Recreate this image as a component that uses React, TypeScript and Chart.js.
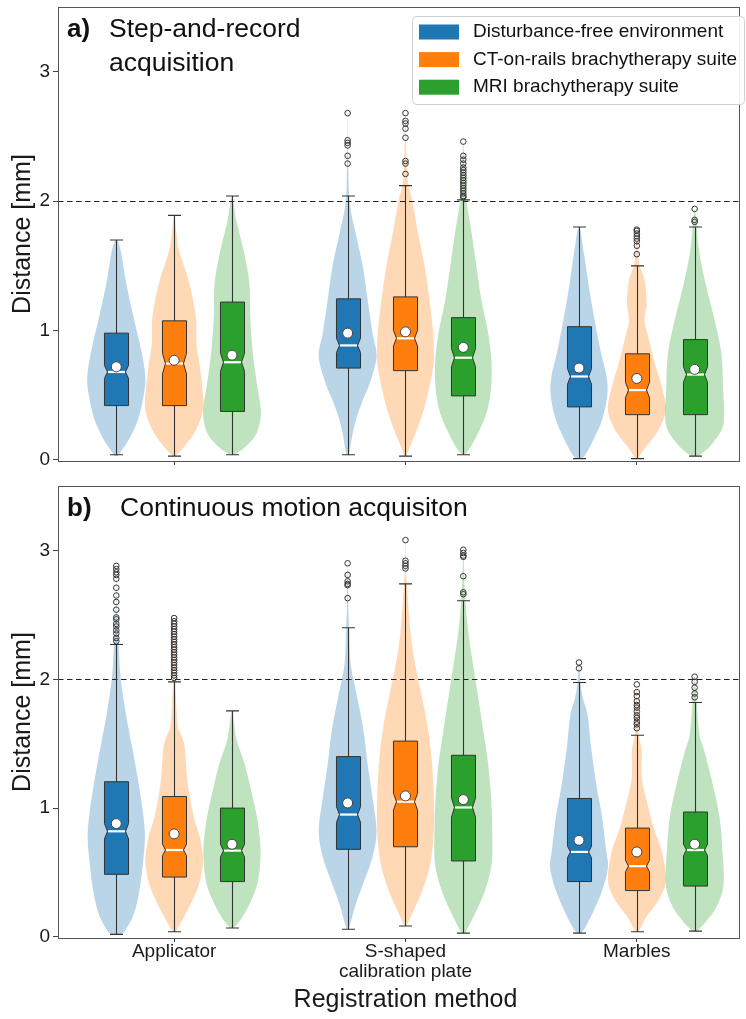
import React, { useEffect, useRef } from 'react';
import { Chart, registerables } from 'chart.js';

Chart.register(...registerables);

const FONT = "'Liberation Sans', Arial, Helvetica, sans-serif";

// ---------- shared labels ----------
const categories: (string | string[])[] = ['Applicator', ['S-shaped', 'calibration plate'], 'Marbles'];
const seriesNames = ['Disturbance-free environment', 'CT-on-rails brachytherapy suite', 'MRI brachytherapy suite'];
const seriesColors = ['#1f77b4', '#ff7f0e', '#2ca02c'];
const violinColors = ['rgba(31,119,180,0.31)', 'rgba(255,127,14,0.3)', 'rgba(44,160,44,0.3)'];
const yTickValues = [0, 1, 2, 3];
const categoryTickValues = [0, 1, 2];
const thresholdMm = 2;
const xAxisTitle = 'Registration method';
const yAxisTitle = 'Distance [mm]';

// ---------- a) Step-and-record acquisition (rows: category, cols: series) ----------
const stepWhiskerLow = [[0.04, 0.03, 0.04], [0.04, 0.03, 0.04], [0.01, 0.01, 0.03]];
const stepQ1 = [[0.42, 0.42, 0.375], [0.71, 0.69, 0.495], [0.41, 0.35, 0.35]];
const stepMedian = [[0.68, 0.745, 0.755], [0.885, 0.94, 0.79], [0.645, 0.54, 0.66]];
const stepQ3 = [[0.98, 1.075, 1.22], [1.245, 1.26, 1.10], [1.03, 0.82, 0.93]];
const stepWhiskerHigh = [[1.70, 1.89, 2.04], [2.04, 2.12, 2.01], [1.80, 1.50, 1.80]];
const stepMean = [[0.72, 0.77, 0.81], [0.98, 0.99, 0.87], [0.71, 0.63, 0.70]];
const stepNotch = [[0.05, 0.08, 0.07], [0.055, 0.06, 0.07], [0.06, 0.06, 0.06]];
const stepOutliers = [
  [[], [], []],
  [
    [2.68, 2.47, 2.45, 2.43, 2.35, 2.29],
    [2.68, 2.62, 2.60, 2.56, 2.49, 2.31, 2.29, 2.21],
    [2.46, 2.35, 2.32, 2.29, 2.26, 2.24, 2.22, 2.20, 2.18, 2.16, 2.14, 2.12, 2.10, 2.08, 2.06, 2.04, 2.03],
  ],
  [[], [1.78, 1.77, 1.75, 1.73, 1.71, 1.69, 1.655, 1.59], [1.94, 1.855, 1.84]],
];

// violin profiles: [distance, relative half-width]
const stepApplicatorFree = [[0.03, 0.05], [0.08, 0.21], [0.18, 0.49], [0.33, 0.78], [0.54, 0.98], [0.65, 1.0], [0.78, 0.92], [0.93, 0.78], [1.11, 0.59], [1.37, 0.34], [1.62, 0.15], [1.70, 0.0]];
const stepApplicatorCt = [[0.03, 0.05], [0.10, 0.34], [0.23, 0.75], [0.39, 1.0], [0.54, 0.98], [0.72, 0.89], [0.90, 0.77], [1.11, 0.75], [1.37, 0.52], [1.62, 0.17], [1.75, 0.08], [1.89, 0.0]];
const stepApplicatorMri = [[0.04, 0.07], [0.10, 0.46], [0.21, 0.86], [0.37, 1.0], [0.59, 0.86], [0.85, 0.71], [1.11, 0.63], [1.37, 0.60], [1.62, 0.40], [1.85, 0.15], [2.04, 0.0]];
const stepPlateFree = [[0.04, 0.03], [0.07, 0.07], [0.20, 0.17], [0.33, 0.31], [0.46, 0.52], [0.59, 0.76], [0.80, 1.0], [0.98, 0.86], [1.24, 0.69], [1.50, 0.52], [1.75, 0.28], [1.99, 0.07], [2.30, 0.02], [2.68, 0.0]];
const stepPlateCt = [[0.03, 0.03], [0.11, 0.17], [0.26, 0.44], [0.46, 0.72], [0.72, 0.96], [0.85, 0.98], [0.98, 0.96], [1.24, 0.83], [1.50, 0.66], [1.75, 0.44], [2.01, 0.23], [2.13, 0.10], [2.30, 0.04], [2.68, 0.0]];
const stepPlateMri = [[0.04, 0.04], [0.11, 0.28], [0.26, 0.62], [0.41, 0.86], [0.59, 0.97], [0.77, 0.97], [0.98, 0.86], [1.24, 0.62], [1.50, 0.45], [1.75, 0.29], [2.01, 0.10], [2.20, 0.04], [2.46, 0.0]];
const stepMarblesFree = [[0.01, 0.1], [0.05, 0.25], [0.18, 0.55], [0.31, 0.8], [0.50, 0.98], [0.65, 0.95], [0.83, 0.76], [1.08, 0.54], [1.34, 0.34], [1.60, 0.17], [1.80, 0.0]];
const stepMarblesCt = [[0.01, 0.04], [0.10, 0.31], [0.23, 0.75], [0.39, 1.0], [0.57, 0.86], [0.75, 0.62], [0.95, 0.40], [1.08, 0.27], [1.21, 0.34], [1.39, 0.27], [1.50, 0.10], [1.60, 0.05], [1.78, 0.0]];
const stepMarblesMri = [[0.03, 0.1], [0.06, 0.3], [0.13, 0.62], [0.28, 1.0], [0.57, 0.98], [0.83, 0.92], [1.08, 0.69], [1.34, 0.40], [1.59, 0.17], [1.80, 0.07], [1.94, 0.0]];

// ---------- b) Continuous motion acquisition ----------
const contWhiskerLow = [[0.02, 0.04, 0.07], [0.06, 0.085, 0.03], [0.03, 0.04, 0.045]];
const contQ1 = [[0.486, 0.465, 0.43], [0.68, 0.70, 0.59], [0.43, 0.36, 0.395]];
const contMedian = [[0.82, 0.675, 0.67], [0.95, 1.05, 1.005], [0.66, 0.55, 0.675]];
const contQ3 = [[1.205, 1.09, 1.0], [1.40, 1.52, 1.41], [1.075, 0.845, 0.97]];
const contWhiskerHigh = [[2.27, 1.98, 1.755], [2.40, 2.74, 2.61], [1.975, 1.565, 1.82]];
const contMean = [[0.88, 0.80, 0.72], [1.04, 1.095, 1.066], [0.75, 0.66, 0.72]];
const contNotch = [[0.06, 0.045, 0.05], [0.06, 0.065, 0.075], [0.045, 0.045, 0.045]];
const contOutliers = [
  [
    [2.88, 2.855, 2.83, 2.81, 2.78, 2.71, 2.65, 2.60, 2.54, 2.48, 2.465, 2.43, 2.41, 2.38, 2.355, 2.32, 2.295],
    [2.475, 2.45, 2.43, 2.41, 2.39, 2.37, 2.35, 2.33, 2.31, 2.29, 2.27, 2.25, 2.23, 2.21, 2.19, 2.17, 2.15, 2.13, 2.11, 2.09, 2.07, 2.05, 2.03, 2.01],
    [],
  ],
  [
    [2.90, 2.81, 2.76, 2.74, 2.73, 2.63],
    [3.08, 2.92, 2.90, 2.88, 2.86],
    [3.005, 2.98, 2.96, 2.95, 2.80, 2.675, 2.66],
  ],
  [
    [2.13, 2.085],
    [1.96, 1.90, 1.87, 1.83, 1.80, 1.78, 1.75, 1.72, 1.70, 1.67, 1.65, 1.62],
    [2.02, 1.98, 1.935, 1.89, 1.86],
  ],
];

const contApplicatorFree = [[0.02, 0.15], [0.05, 0.31], [0.18, 0.61], [0.36, 0.80], [0.57, 0.92], [0.77, 0.99], [0.95, 0.93], [1.21, 0.76], [1.47, 0.55], [1.72, 0.34], [2.01, 0.15], [2.27, 0.08], [2.50, 0.02], [2.88, 0.0]];
const contApplicatorCt = [[0.04, 0.05], [0.11, 0.23], [0.26, 0.58], [0.41, 0.86], [0.59, 1.0], [0.77, 0.89], [0.95, 0.66], [1.21, 0.46], [1.47, 0.37], [1.57, 0.24], [1.65, 0.12], [1.98, 0.04], [2.20, 0.02], [2.48, 0.0]];
const contApplicatorMri = [[0.07, 0.07], [0.16, 0.38], [0.31, 0.72], [0.46, 0.92], [0.67, 0.99], [0.88, 0.90], [1.08, 0.72], [1.34, 0.44], [1.54, 0.15], [1.755, 0.0]];
const contPlateFree = [[0.06, 0.03], [0.10, 0.09], [0.26, 0.29], [0.44, 0.58], [0.62, 0.86], [0.82, 1.0], [1.08, 0.86], [1.34, 0.69], [1.60, 0.55], [1.85, 0.34], [2.11, 0.11], [2.40, 0.05], [2.60, 0.02], [2.90, 0.0]];
const contPlateCt = [[0.085, 0.03], [0.18, 0.23], [0.36, 0.58], [0.57, 0.86], [0.82, 0.98], [1.08, 0.98], [1.34, 0.92], [1.60, 0.79], [1.85, 0.58], [2.11, 0.34], [2.37, 0.17], [2.74, 0.05], [2.90, 0.02], [3.08, 0.0]];
const contPlateMri = [[0.03, 0.03], [0.05, 0.11], [0.18, 0.40], [0.36, 0.75], [0.57, 0.98], [0.82, 1.0], [1.08, 0.96], [1.34, 0.86], [1.60, 0.69], [1.85, 0.52], [2.11, 0.34], [2.37, 0.17], [2.61, 0.07], [2.80, 0.03], [3.00, 0.0]];
const contMarblesFree = [[0.03, 0.08], [0.08, 0.23], [0.21, 0.52], [0.36, 0.80], [0.54, 1.0], [0.67, 0.94], [0.93, 0.80], [1.18, 0.60], [1.47, 0.42], [1.72, 0.30], [1.85, 0.14], [1.975, 0.05], [2.13, 0.0]];
const contMarblesCt = [[0.04, 0.05], [0.06, 0.11], [0.16, 0.34], [0.285, 0.75], [0.44, 1.0], [0.67, 0.86], [0.85, 0.58], [1.06, 0.34], [1.24, 0.17], [1.44, 0.17], [1.565, 0.07], [1.70, 0.04], [1.96, 0.0]];
const contMarblesMri = [[0.045, 0.07], [0.105, 0.34], [0.23, 0.75], [0.41, 1.0], [0.67, 0.96], [0.93, 0.86], [1.18, 0.63], [1.44, 0.34], [1.57, 0.17], [1.82, 0.07], [2.02, 0.0]];

// ---------- geometry / style constants (x units = category spacing) ----------
const SERIES_OFFSETS = [-0.25, 0, 0.25];
const VIOLIN_HALF = 0.125;
const BOX_HALF = 0.052;
const CAP_HALF = 0.028;
const NOTCH_RATIO = 0.75;
const X_MIN = -0.502;
const X_MAX = 2.446;
const Y_MIN = -0.008;
const Y_MAX = 3.5;

const stepPanel = {
  id: 'a',
  label: 'a)',
  title: ['Step-and-record', 'acquisition'],
  titleDx: 51,
  legend: true,
  xTitle: false,
  low: stepWhiskerLow, q1: stepQ1, med: stepMedian, q3: stepQ3, high: stepWhiskerHigh,
  mean: stepMean, notch: stepNotch, outliers: stepOutliers,
  violins: [
    [stepApplicatorFree, stepApplicatorCt, stepApplicatorMri],
    [stepPlateFree, stepPlateCt, stepPlateMri],
    [stepMarblesFree, stepMarblesCt, stepMarblesMri],
  ],
};

const contPanel = {
  id: 'b',
  label: 'b)',
  title: ['Continuous motion acquisiton'],
  titleDx: 62,
  legend: false,
  xTitle: true,
  low: contWhiskerLow, q1: contQ1, med: contMedian, q3: contQ3, high: contWhiskerHigh,
  mean: contMean, notch: contNotch, outliers: contOutliers,
  violins: [
    [contApplicatorFree, contApplicatorCt, contApplicatorMri],
    [contPlateFree, contPlateCt, contPlateMri],
    [contMarblesFree, contMarblesCt, contMarblesMri],
  ],
};

function smoothPath(ctx: CanvasRenderingContext2D, pts: { x: number; y: number }[]) {
  ctx.moveTo(pts[0].x, pts[0].y);
  for (let i = 0; i < pts.length - 1; i++) {
    const p0 = pts[i - 1] || pts[i];
    const p1 = pts[i];
    const p2 = pts[i + 1];
    const p3 = pts[i + 2] || p2;
    const c1x = p1.x + (p2.x - p0.x) / 6;
    const c1y = p1.y + (p2.y - p0.y) / 6;
    const c2x = p2.x - (p3.x - p1.x) / 6;
    const c2y = p2.y - (p3.y - p1.y) / 6;
    ctx.bezierCurveTo(c1x, c1y, c2x, c2y, p2.x, p2.y);
  }
}

function makePanelPlugin(panel: any) {
  return {
    id: 'panel-' + panel.id,
    beforeDatasetsDraw(chart: any) {
      const { ctx, chartArea: ca, scales } = chart;
      const x = scales.x;
      const y = scales.y;
      const unit = x.getPixelForValue(1) - x.getPixelForValue(0);
      const vHalf = VIOLIN_HALF * unit;
      const bHalf = BOX_HALF * unit;
      const cHalf = CAP_HALF * unit;
      ctx.save();
      ctx.beginPath();
      ctx.rect(ca.left, ca.top, ca.right - ca.left, ca.bottom - ca.top);
      ctx.clip();

      // violins
      for (let c = 0; c < 3; c++) {
        for (let s = 0; s < 3; s++) {
          const cx = x.getPixelForValue(c + SERIES_OFFSETS[s]);
          const prof = panel.violins[c][s];
          const right = prof.map((p: number[]) => ({ x: cx + p[1] * vHalf, y: y.getPixelForValue(p[0]) }));
          const rev = prof.slice().reverse();
          const left = rev
            .filter((p: number[], i: number) => !(i === 0 && p[1] === 0))
            .map((p: number[]) => ({ x: cx - p[1] * vHalf, y: y.getPixelForValue(p[0]) }));
          ctx.beginPath();
          smoothPath(ctx, right.concat(left));
          ctx.closePath();
          ctx.fillStyle = violinColors[s];
          ctx.fill();
        }
      }

      // threshold line
      const ty = Math.round(y.getPixelForValue(thresholdMm)) + 0.5;
      ctx.beginPath();
      ctx.setLineDash([5.5, 3.5]);
      ctx.moveTo(ca.left, ty);
      ctx.lineTo(ca.right, ty);
      ctx.strokeStyle = '#222';
      ctx.lineWidth = 1.2;
      ctx.stroke();
      ctx.setLineDash([]);

      // whiskers + notched boxes
      for (let c = 0; c < 3; c++) {
        for (let s = 0; s < 3; s++) {
          const cx = Math.round(x.getPixelForValue(c + SERIES_OFFSETS[s])) + 0.5;
          const yLow = y.getPixelForValue(panel.low[c][s]);
          const yHigh = y.getPixelForValue(panel.high[c][s]);
          const yQ1 = y.getPixelForValue(panel.q1[c][s]);
          const yQ3 = y.getPixelForValue(panel.q3[c][s]);
          const med = panel.med[c][s];
          const n = panel.notch[c][s];
          const yMed = y.getPixelForValue(med);
          const yNLo = y.getPixelForValue(med - n);
          const yNHi = y.getPixelForValue(med + n);

          ctx.strokeStyle = '#333';
          ctx.lineWidth = 1.1;
          ctx.beginPath();
          ctx.moveTo(cx, yLow);
          ctx.lineTo(cx, yHigh);
          ctx.moveTo(cx - cHalf, yLow);
          ctx.lineTo(cx + cHalf, yLow);
          ctx.moveTo(cx - cHalf, yHigh);
          ctx.lineTo(cx + cHalf, yHigh);
          ctx.stroke();

          const nw = bHalf * NOTCH_RATIO;
          ctx.beginPath();
          ctx.moveTo(cx - bHalf, yQ1);
          ctx.lineTo(cx + bHalf, yQ1);
          ctx.lineTo(cx + bHalf, yNLo);
          ctx.lineTo(cx + nw, yMed);
          ctx.lineTo(cx + bHalf, yNHi);
          ctx.lineTo(cx + bHalf, yQ3);
          ctx.lineTo(cx - bHalf, yQ3);
          ctx.lineTo(cx - bHalf, yNHi);
          ctx.lineTo(cx - nw, yMed);
          ctx.lineTo(cx - bHalf, yNLo);
          ctx.closePath();
          ctx.fillStyle = seriesColors[s];
          ctx.fill();
          ctx.lineWidth = 1;
          ctx.strokeStyle = '#333';
          ctx.stroke();

          ctx.beginPath();
          ctx.moveTo(cx - nw + 0.5, yMed);
          ctx.lineTo(cx + nw - 0.5, yMed);
          ctx.strokeStyle = '#ffffff';
          ctx.lineWidth = 2.2;
          ctx.stroke();
        }
      }
      ctx.restore();
    },
    afterDraw(chart: any) {
      const { ctx, chartArea: ca, scales } = chart;
      ctx.save();
      // frame
      ctx.strokeStyle = '#555';
      ctx.lineWidth = 1;
      const l = Math.round(ca.left) + 0.5;
      const t = Math.round(ca.top) + 0.5;
      const r = Math.round(ca.right) - 0.5;
      const b = Math.round(ca.bottom) + 0.5;
      ctx.strokeRect(l, t, r - l, b - t);

      // panel label + title
      ctx.fillStyle = '#111';
      ctx.textBaseline = 'alphabetic';
      ctx.textAlign = 'left';
      ctx.font = 'bold 26px ' + FONT;
      ctx.fillText(panel.label, ca.left + 9, ca.top + 30);
      ctx.font = '26.5px ' + FONT;
      panel.title.forEach((line: string, i: number) => {
        ctx.fillText(line, ca.left + panel.titleDx, ca.top + 30 + i * 33.5);
      });

      // x-axis title, centred on the middle category
      if (panel.xTitle) {
        ctx.font = '25px ' + FONT;
        ctx.textAlign = 'center';
        ctx.textBaseline = 'middle';
        ctx.fillStyle = '#1a1a1a';
        ctx.fillText(xAxisTitle, scales.x.getPixelForValue(1), ca.bottom + 62);
        ctx.textAlign = 'left';
      }

      // legend
      if (panel.legend) {
        const lx = ca.left + 354.5;
        const ly = ca.top + 9.5;
        const lw = 332;
        const lh = 88;
        const rr = 4;
        ctx.beginPath();
        ctx.moveTo(lx + rr, ly);
        ctx.lineTo(lx + lw - rr, ly);
        ctx.arcTo(lx + lw, ly, lx + lw, ly + rr, rr);
        ctx.lineTo(lx + lw, ly + lh - rr);
        ctx.arcTo(lx + lw, ly + lh, lx + lw - rr, ly + lh, rr);
        ctx.lineTo(lx + rr, ly + lh);
        ctx.arcTo(lx, ly + lh, lx, ly + lh - rr, rr);
        ctx.lineTo(lx, ly + rr);
        ctx.arcTo(lx, ly, lx + rr, ly, rr);
        ctx.closePath();
        ctx.fillStyle = 'rgba(255,255,255,0.9)';
        ctx.fill();
        ctx.strokeStyle = '#d0d0d0';
        ctx.stroke();
        ctx.font = '19px ' + FONT;
        ctx.textBaseline = 'middle';
        seriesNames.forEach((name, i) => {
          const rowY = ly + 15.5 + i * 27.6;
          ctx.fillStyle = seriesColors[i];
          ctx.fillRect(lx + 6.5, rowY - 7.5, 40, 15);
          ctx.fillStyle = '#111';
          ctx.fillText(name, lx + 60.5, rowY);
        });
      }
      ctx.restore();
    },
  };
}

function makeConfig(panel: any, isBottom: boolean): any {
  const H = isBottom ? 539 : 480;
  const caTop = isBottom ? 3 : 7;
  const caBottom = isBottom ? 458 : 461;

  const meanPoints: { x: number; y: number }[] = [];
  const outlierPoints: { x: number; y: number }[] = [];
  for (let c = 0; c < 3; c++) {
    for (let s = 0; s < 3; s++) {
      meanPoints.push({ x: c + SERIES_OFFSETS[s], y: panel.mean[c][s] });
      panel.outliers[c][s].forEach((v: number) => outlierPoints.push({ x: c + SERIES_OFFSETS[s], y: v }));
    }
  }

  return {
    type: 'scatter',
    data: {
      datasets: [
        {
          label: 'Mean',
          data: meanPoints,
          pointRadius: 5,
          pointBackgroundColor: '#ffffff',
          pointBorderColor: '#444',
          pointBorderWidth: 1,
        },
        {
          label: 'Outliers',
          data: outlierPoints,
          pointRadius: 2.8,
          pointBackgroundColor: 'rgba(255,255,255,0)',
          pointBorderColor: '#333',
          pointBorderWidth: 1,
        },
      ],
    },
    options: {
      responsive: false,
      animation: false,
      devicePixelRatio: 1,
      events: [],
      layout: { padding: { left: 0, right: 1, top: caTop, bottom: 0 } },
      plugins: { legend: { display: false }, tooltip: { enabled: false }, title: { display: false } },
      scales: {
        x: {
          type: 'linear',
          min: X_MIN,
          max: X_MAX,
          afterBuildTicks: (s: any) => {
            s.ticks = categoryTickValues.map((v) => ({ value: v }));
          },
          afterFit: (s: any) => {
            s.height = H - caBottom;
            s.paddingLeft = 0;
            s.paddingRight = 0;
          },
          ticks: {
            callback: (v: number) => (isBottom ? categories[v] : ''),
            font: { family: FONT, size: 19, lineHeight: 1.06 },
            color: '#1a1a1a',
            padding: 0,
            maxRotation: 0,
            autoSkip: false,
          },
          grid: { display: true, drawOnChartArea: false, drawTicks: true, tickLength: 4, color: '#444' },
          border: { display: false },
          title: { display: false },
        },
        y: {
          type: 'linear',
          min: Y_MIN,
          max: Y_MAX,
          afterBuildTicks: (s: any) => {
            s.ticks = yTickValues.map((v) => ({ value: v }));
          },
          afterFit: (s: any) => {
            s.width = 58;
            s.paddingTop = 0;
            s.paddingBottom = 0;
          },
          ticks: {
            font: { family: FONT, size: 19 },
            color: '#1a1a1a',
            padding: 3,
          },
          grid: { display: true, drawOnChartArea: false, drawTicks: true, tickLength: 5, color: '#444' },
          border: { display: false },
          title: {
            display: true,
            text: yAxisTitle,
            font: { family: FONT, size: 25, lineHeight: 1.2 },
            color: '#1a1a1a',
            padding: { top: 8, bottom: 0 },
          },
        },
      },
    },
    plugins: [makePanelPlugin(panel)],
  };
}

export default function App() {
  const topRef = useRef<HTMLCanvasElement>(null);
  const botRef = useRef<HTMLCanvasElement>(null);

  useEffect(() => {
    document.body.style.margin = '0';
    const c1 = new Chart(topRef.current as HTMLCanvasElement, makeConfig(stepPanel, false));
    const c2 = new Chart(botRef.current as HTMLCanvasElement, makeConfig(contPanel, true));
    return () => {
      c1.destroy();
      c2.destroy();
    };
  }, []);

  return (
    <div style={{ position: 'relative', width: 746, height: 1019, background: '#fff', overflow: 'hidden' }}>
      <canvas ref={topRef} width={746} height={480} style={{ position: 'absolute', left: 0, top: 0, width: 746, height: 480 }} />
      <canvas ref={botRef} width={746} height={539} style={{ position: 'absolute', left: 0, top: 480, width: 746, height: 539 }} />
    </div>
  );
}
